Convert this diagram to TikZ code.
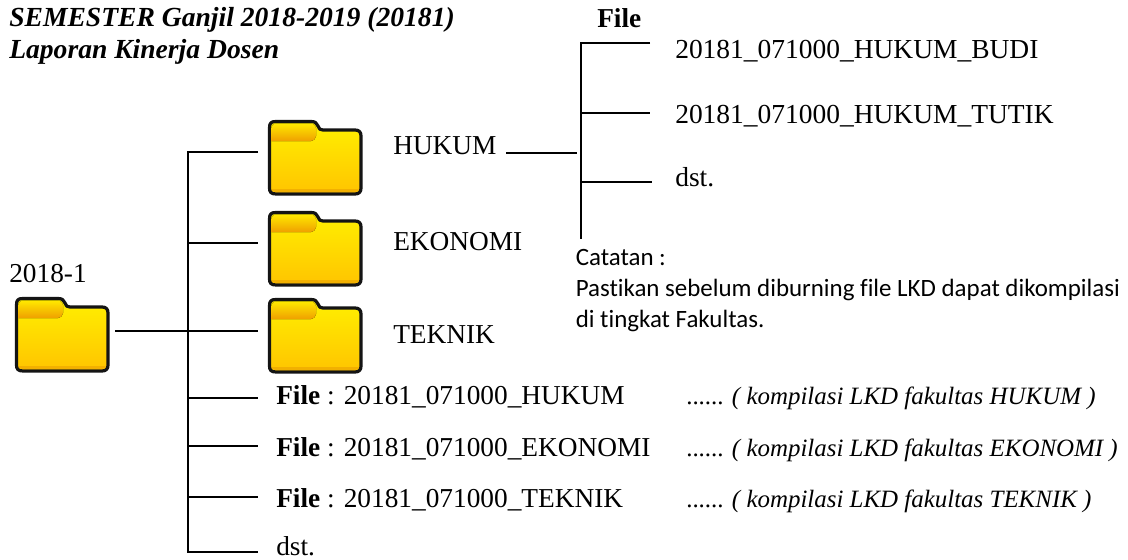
\documentclass[tikz,border=0pt]{standalone}
\usepackage{fontspec}
\setmainfont{Liberation Serif}
\newfontfamily\notefont[Ligatures=NoCommon]{Carlito}
\definecolor{fa}{HTML}{FFF000}
\definecolor{fb}{HTML}{FFC400}
\definecolor{fc}{HTML}{FFE800}
\definecolor{fd}{HTML}{EFA000}
\definecolor{fe}{HTML}{F2B000}
\tikzset{
  x=0.75pt,y=-0.75pt,
  txt/.style={anchor=base west,inner sep=0pt,font=\fontsize{20.5}{22}\selectfont},
  big/.style={anchor=base west,inner sep=0pt,font=\fontsize{20.6}{22}\selectfont},
  note/.style={anchor=base west,inner sep=0pt,font=\notefont\fontsize{18.7}{22}\selectfont},
  head/.style={anchor=base west,inner sep=0pt,font=\bfseries\itshape\fontsize{20.7}{22}\selectfont},
  bold/.style={anchor=base west,inner sep=0pt,font=\bfseries\fontsize{20.5}{22}\selectfont},
  rem/.style={anchor=base west,inner sep=0pt,font=\itshape\fontsize{18.7}{22}\selectfont},
  conn/.style={draw=black,line width=1.3pt},
  folderbox/.style={minimum width=70pt,minimum height=57pt,inner sep=0pt},
}
\newcommand{\folder}[3]{% name, left x, top y
  \begin{scope}[shift={(#2,#3)}]
    \fill[top color=fa,bottom color=fb,draw=black!92,line width=2.4pt,line join=round]
      (1.5,8) .. controls (1.5,3) and (3,1.5) .. (8,1.5) -- (43,1.5)
      .. controls (47,1.5) and (49,3) .. (50,6) .. controls (51,9) and (52,10) .. (55,10)
      -- (87,10) .. controls (91,10) and (93,12) .. (93,16) -- (93,68)
      .. controls (93,72) and (91,74) .. (87,74) -- (8,74)
      .. controls (3,74) and (1.5,72) .. (1.5,68) -- cycle;
    \fill[top color=fc,bottom color=fd]
      (3.5,21) -- (3.5,8) .. controls (3.5,5) and (5,3.5) .. (8,3.5) -- (43,3.5)
      .. controls (46,3.5) and (47,5) .. (48,8) -- (48,16) .. controls (47,19) and (46,21) .. (43,21) -- cycle;
    \fill[fe] (3.5,69) -- (91,69) -- (91,68) .. controls (91,71) and (89,72) .. (87,72) -- (8,72) .. controls (5,72) and (3.5,71) .. (3.5,69) -- cycle;
    \node[folderbox,anchor=north west] (#1) at (0,0) {};
  \end{scope}}
\begin{document}
\begin{tikzpicture}
\useasboundingbox (0,0) rectangle (1128,560);
\fill[white] (0,0) rectangle (1128,560);
\folder{froot}{15}{297}
\folder{fhukum}{268}{120}
\folder{fekonomi}{268}{211}
\folder{fteknik}{268}{298}

\coordinate (rootj) at (188,331);
\coordinate (rootend) at (115,331);
\foreach \n/\y in {a/152,b/243,c/331,d/398,e/446,f/497,g/552}{\coordinate (e\n) at (258,\y); \coordinate (j\n) at (188,\y);}
\draw[conn] (rootend) -- (rootj);
\draw[conn] (ea) -- (ja) -- (jg) -- (eg);
\foreach \n in {b,c,d,e,f}{\draw[conn] (j\n) -- (e\n);}

\coordinate (rbot) at (581,239);
\foreach \n/\y/\e in {a/43/650,b/113/650,c/182/652}{\coordinate (re\n) at (\e,\y); \coordinate (rj\n) at (581,\y);}
\draw[conn] (rea) -- (rja) -- (rbot);
\draw[conn] (rjb) -- (reb);
\draw[conn] (rjc) -- (rec);
\coordinate (hs) at (506,153);
\coordinate (he) at (577,153);
\draw[conn] (hs) -- (he);

\node[head] (t1) at (9,27) {SEMESTER Ganjil 2018-2019 (20181)};
\node[head] (t2) at (9,59) {Laporan Kinerja Dosen};
\node[bold] (fl) at (597,28) {File};
\node[big] (n1) at (675,59) {20181\_071000\_HUKUM\_BUDI};
\node[big] (n2) at (675,123) {20181\_071000\_HUKUM\_TUTIK};
\node[big] (n3) at (675,186) {dst.};
\node[txt] (h) at (393,154) {HUKUM};
\node[txt] (k) at (393,250) {EKONOMI};
\node[txt] (tk) at (393,343) {TEKNIK};
\node[txt] (yr) at (9,282) {2018-1};
\node[note] (nt1) at (575.5,265) {Catatan :};
\node[note] (nt2) at (575.5,296) {Pastikan sebelum diburning file LKD dapat dikompilasi};
\node[note] (nt3) at (575.5,327) {di tingkat Fakultas.};
\node[txt] (l1) at (276,404) {\textbf{File} : 20181\_071000\_HUKUM};
\node[txt] (l2) at (276,456) {\textbf{File} : 20181\_071000\_EKONOMI};
\node[txt] (l3) at (276,507) {\textbf{File} : 20181\_071000\_TEKNIK};
\node[txt] (l4) at (276,555) {dst.};
\node[rem] (r1) at (686,404) {\textup{......} ( kompilasi LKD fakultas HUKUM )};
\node[rem] (r2) at (686,456) {\textup{......} ( kompilasi LKD fakultas EKONOMI )};
\node[rem] (r3) at (686,507) {\textup{......} ( kompilasi LKD fakultas TEKNIK )};
\end{tikzpicture}
\end{document}
